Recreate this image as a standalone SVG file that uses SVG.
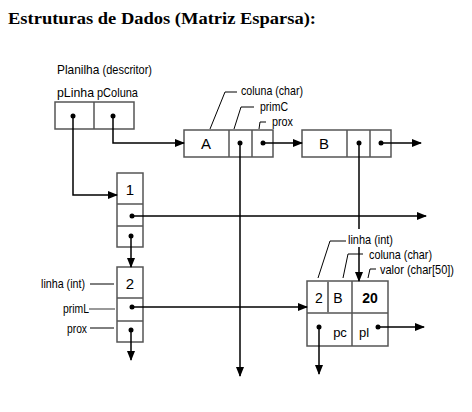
<svg xmlns="http://www.w3.org/2000/svg" width="472" height="412" viewBox="0 0 472 412">
<defs>
<marker id="ar" markerWidth="10" markerHeight="8" refX="9" refY="4" orient="auto" markerUnits="userSpaceOnUse">
<path d="M0,0 L10,4 L0,8 Z" fill="#000"/>
</marker>
<style>
.box{fill:#fff;stroke:#555;stroke-width:1.5}
.div{stroke:#555;stroke-width:1.5}
.con{fill:none;stroke:#000;stroke-width:1.5}
.ar{marker-end:url(#ar)}
.ld{fill:none;stroke:#000;stroke-width:1}
.dot{fill:#000}
.lbl{font-family:"Liberation Sans",Arial,sans-serif;font-size:13px;fill:#000}
.big{font-family:"Liberation Sans",Arial,sans-serif;font-size:15px;fill:#000;text-anchor:middle}
.cel{font-family:"Liberation Sans",Arial,sans-serif;font-size:14px;fill:#000;text-anchor:middle}
</style>
</defs>
<rect width="472" height="412" fill="#fff"/>
<text x="8" y="24" font-family="'Liberation Serif',serif" font-weight="bold" font-size="16.5" textLength="308" lengthAdjust="spacingAndGlyphs">Estruturas de Dados (Matriz Esparsa):</text>

<g id="descritor">
<text class="lbl" x="57" y="74" textLength="95" lengthAdjust="spacingAndGlyphs">Planilha <tspan font-size="12">(descritor)</tspan></text>
<text class="lbl" x="57" y="97" textLength="37" lengthAdjust="spacingAndGlyphs">pLinha</text>
<text class="lbl" x="97" y="97" textLength="41" lengthAdjust="spacingAndGlyphs">pColuna</text>
<rect class="box" x="55" y="102" width="79" height="27"/>
<line class="div" x1="94" y1="102" x2="94" y2="129"/>
</g>

<g id="colA">
<rect class="box" x="184" y="130" width="89" height="27"/>
<line class="div" x1="229" y1="130" x2="229" y2="157"/>
<line class="div" x1="252" y1="130" x2="252" y2="157"/>
<text class="big" x="206" y="149">A</text>
<path class="ld" d="M210,129 L225,92 H237"/>
<text class="lbl" x="241" y="95" textLength="62" lengthAdjust="spacingAndGlyphs">coluna (char)</text>
<path class="ld" d="M234,129 L241,107 H254"/>
<text class="lbl" x="260" y="111" textLength="28" lengthAdjust="spacingAndGlyphs">primC</text>
<path class="ld" d="M259,129 L260,122 H266"/>
<text class="lbl" x="272" y="126" textLength="21" lengthAdjust="spacingAndGlyphs">prox</text>
</g>

<g id="colB">
<rect class="box" x="302" y="130" width="89" height="27"/>
<line class="div" x1="347" y1="130" x2="347" y2="157"/>
<line class="div" x1="370" y1="130" x2="370" y2="157"/>
<text class="big" x="324" y="149">B</text>
</g>

<g id="linha1">
<rect class="box" x="117" y="173" width="26" height="74"/>
<line class="div" x1="117" y1="204" x2="143" y2="204"/>
<line class="div" x1="117" y1="226" x2="143" y2="226"/>
<text class="big" x="130" y="195">1</text>
</g>

<g id="linha2">
<rect class="box" x="117" y="267" width="26" height="75"/>
<line class="div" x1="117" y1="298" x2="143" y2="298"/>
<line class="div" x1="117" y1="321" x2="143" y2="321"/>
<text class="big" x="130" y="289">2</text>
<text class="lbl" x="85" y="288" text-anchor="end" textLength="44" lengthAdjust="spacingAndGlyphs">linha (int)</text>
<line class="ld" x1="90" y1="284" x2="114" y2="284"/>
<text class="lbl" x="89" y="313" text-anchor="end" textLength="26" lengthAdjust="spacingAndGlyphs">primL</text>
<line x1="89" y1="309" x2="115" y2="309" stroke="#777" stroke-width="1.5"/>
<text class="lbl" x="87" y="333" text-anchor="end" textLength="20" lengthAdjust="spacingAndGlyphs">prox</text>
<line class="ld" x1="90" y1="328" x2="114" y2="328"/>
</g>

<g id="celula">
<rect class="box" x="307" y="281" width="81" height="65"/>
<line class="div" x1="307" y1="313" x2="388" y2="313"/>
<line x1="328" y1="281" x2="328" y2="313" stroke="#777" stroke-width="2"/>
<line class="div" x1="352" y1="281" x2="352" y2="346"/>
<text class="cel" x="319" y="303">2</text>
<text class="cel" x="338" y="303">B</text>
<text class="cel" x="370" y="303" font-weight="bold">20</text>
<text class="lbl" x="340" y="337" text-anchor="middle">pc</text>
<text class="lbl" x="364" y="337" text-anchor="middle">pl</text>
<path class="ld" d="M318,278 L330,241 H346"/>
<text class="lbl" x="348" y="244" textLength="45" lengthAdjust="spacingAndGlyphs">linha (int)</text>
<path class="ld" d="M343,278 L348,254 H363"/>
<text class="lbl" x="369" y="259" textLength="63" lengthAdjust="spacingAndGlyphs">coluna (char)</text>
<path class="ld" d="M368,278 L370,269 H376"/>
<text class="lbl" x="380" y="274" textLength="74" lengthAdjust="spacingAndGlyphs">valor (char[50])</text>
</g>

<g id="connectors">
<path class="con ar" d="M73,116 V195 H117"/>
<path class="con ar" d="M113,116 V143 H184"/>
<path class="con ar" d="M263,143 H302"/>
<path class="con ar" d="M381,143 H421"/>
<path class="con ar" d="M240,143 V376"/>
<path class="con" d="M359,143 V229"/>
<path class="con ar" d="M359,247 V281"/>
<path class="con ar" d="M132,216 H426"/>
<path class="con ar" d="M131,236 V267"/>
<path class="con ar" d="M132,307 H307"/>
<path class="con ar" d="M131,330 V360"/>
<path class="con ar" d="M319,327 V374"/>
<path class="con ar" d="M378,327 H424"/>
<circle class="dot" cx="73" cy="116" r="2.5"/>
<circle class="dot" cx="113" cy="116" r="2.5"/>
<circle class="dot" cx="240" cy="143" r="2.5"/>
<circle class="dot" cx="263" cy="143" r="2.5"/>
<circle class="dot" cx="359" cy="143" r="2.5"/>
<circle class="dot" cx="381" cy="143" r="2.5"/>
<circle class="dot" cx="132" cy="216" r="2.5"/>
<circle class="dot" cx="131" cy="236" r="2.5"/>
<circle class="dot" cx="132" cy="307" r="2.5"/>
<circle class="dot" cx="131" cy="330" r="2.5"/>
<circle class="dot" cx="319" cy="327" r="2.5"/>
<circle class="dot" cx="378" cy="327" r="2.5"/>
</g>
</svg>
